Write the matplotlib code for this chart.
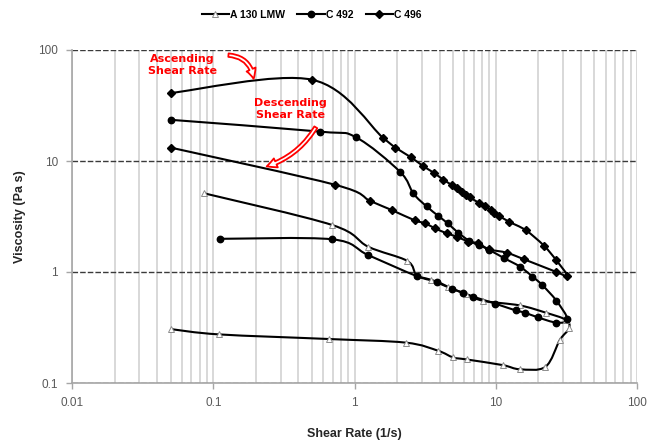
import numpy as np
import matplotlib
matplotlib.use("Agg")
import matplotlib.pyplot as plt
from matplotlib.path import Path
from matplotlib.patches import PathPatch, FancyArrowPatch
from matplotlib.lines import Line2D
from matplotlib.ticker import LogLocator, FixedLocator, NullFormatter

# each series: ascending shear rate sweep, then descending sweep
a130_rate = [0.05, 0.11, 0.66, 2.31, 3.91, 4.99, 6.21, 11.2, 14.8, 22.5, 28.4, 33.0,
             31.5, 22.6, 14.8, 8.15, 6.2, 4.6, 3.46, 2.75, 2.36, 1.25, 0.695, 0.086]
a130_visc = [0.306, 0.274, 0.249, 0.231, 0.195, 0.170, 0.163, 0.145, 0.133, 0.140, 0.244, 0.310,
             0.37, 0.43, 0.50, 0.55, 0.63, 0.73, 0.85, 0.94, 1.26, 1.69, 2.65, 5.12]

c492_rate = [0.05, 0.57, 1.02, 2.1, 2.61, 3.24, 3.92, 4.56, 5.42, 6.45, 7.6, 9.0, 11.5, 14.8,
             18.2, 21.4, 26.9, 32.2, 26.9, 19.9, 16.1, 13.9, 9.86, 6.92, 5.88, 4.87, 3.81,
             2.75, 1.25, 0.695, 0.111]
c492_visc = [23.5, 18.4, 16.4, 8.0, 5.1, 3.9, 3.2, 2.75, 2.26, 1.92, 1.75, 1.58, 1.33, 1.12,
             0.91, 0.76, 0.55, 0.374, 0.35, 0.39, 0.43, 0.45, 0.52, 0.60, 0.65, 0.71, 0.82,
             0.92, 1.42, 1.97, 1.99]

c496_rate = [0.05, 0.5, 1.6, 1.95, 2.51, 3.06, 3.66, 4.24, 4.87, 5.28, 5.73, 6.14, 6.56,
             7.59, 8.37, 9.19, 9.75, 10.6, 12.4, 16.3, 21.9, 26.9, 32.2, 26.9, 15.9, 12.0,
             9.0, 7.5, 6.4, 5.3, 4.5, 3.7, 3.15, 2.67, 1.83, 1.29, 0.73, 0.05]
c496_visc = [41, 54, 16.1, 13.2, 10.8, 9.0, 7.8, 6.8, 6.1, 5.7, 5.3, 4.95, 4.7,
             4.2, 3.94, 3.62, 3.43, 3.2, 2.84, 2.38, 1.73, 1.27, 0.92, 1.0, 1.30, 1.49,
             1.60, 1.81, 1.88, 2.08, 2.23, 2.48, 2.75, 2.92, 3.62, 4.37, 6.1, 13.2]

x_ticks = [0.01, 0.1, 1, 10, 100]
y_ticks = [0.1, 1, 10, 100]


def smooth_path(xs, ys):
    # Excel-like smoothed line: Catmull-Rom beziers in log space
    p = np.column_stack([np.log10(xs), np.log10(ys)])
    n = len(p)
    verts = [p[0]]
    codes = [Path.MOVETO]
    for i in range(n - 1):
        p0 = p[i - 1] if i > 0 else p[i]
        p3 = p[i + 2] if i + 2 < n else p[i + 1]
        verts += [p[i] + (p[i + 1] - p0) / 6, p[i + 1] - (p3 - p[i]) / 6, p[i + 1]]
        codes += [Path.CURVE4] * 3
    return Path(10 ** np.array(verts), codes)


fig = plt.figure(figsize=(6.49, 4.42), dpi=100)
ax = fig.add_axes([72 / 649, 59 / 442, 565 / 649, 333 / 442])
ax.set_xscale("log")
ax.set_yscale("log")
ax.set_xlim(0.01, 100)
ax.set_ylim(0.1, 100)

series = [
    ("A 130 LMW", a130_rate, a130_visc, dict(marker="^", ms=4, mfc="white", mec="#8c8c8c", mew=0.7)),
    ("C 492", c492_rate, c492_visc, dict(marker="o", ms=4.6, mfc="black", mec="black")),
    ("C 496", c496_rate, c496_visc, dict(marker="D", ms=4.3, mfc="black", mec="black")),
]
handles = []
for name, xs, ys, mk in series:
    ax.add_patch(PathPatch(smooth_path(xs, ys), fill=False, lw=1.5, ec="black", zorder=3))
    ax.plot(xs, ys, ls="none", zorder=4, **mk)
    handles.append(Line2D([], [], color="black", lw=1.5, label=name, **mk))

# grid
ax.xaxis.set_major_locator(FixedLocator(x_ticks))
ax.xaxis.set_minor_locator(LogLocator(base=10, subs=np.arange(2, 10)))
ax.xaxis.set_minor_formatter(NullFormatter())
ax.yaxis.set_major_locator(FixedLocator(y_ticks))
ax.yaxis.set_minor_locator(LogLocator(base=10, subs=[]))
ax.set_xticklabels(["0.01", "0.1", "1", "10", "100"])
ax.set_yticklabels(["0.1", "1", "10", "100"])
ax.grid(True, axis="x", which="both", color="#d2d2d2", lw=1.2, zorder=0)
ax.grid(True, axis="y", which="major", color="#3a3a3a", lw=1.0, ls=(0, (4, 1.5)), zorder=1)
ax.set_axisbelow(True)

for s in ["top", "right"]:
    ax.spines[s].set_visible(False)
for s in ["left", "bottom"]:
    ax.spines[s].set_color("#a6a6a6")
    ax.spines[s].set_linewidth(1.2)
ax.tick_params(axis="both", which="major", length=4, color="#a6a6a6", width=1,
               labelsize=8.5, labelcolor="#595959", pad=6)
ax.tick_params(axis="both", which="minor", length=0)
for lab in ax.get_xticklabels() + ax.get_yticklabels():
    lab.set_family("Liberation Sans")

ax.set_xlabel("Shear Rate (1/s)", fontsize=9, fontweight="bold", color="#262626",
              family="Liberation Sans", labelpad=14)
ax.set_ylabel("Viscosity (Pa s)", fontsize=9, fontweight="bold", color="#262626",
              family="Liberation Sans", labelpad=9)

fig.legend(handles=handles, loc="center", bbox_to_anchor=(0.48, 0.966), ncol=3,
           frameon=False, handlelength=2.6, columnspacing=1.2, handletextpad=0.1,
           prop=dict(family="Liberation Sans", weight="bold", size=7.5))

# annotations
ax.text(0.196, 0.955, "Ascending\nShear Rate", transform=ax.transAxes, ha="center", va="center",
        color="red", fontsize=8, fontweight="bold", linespacing=1.25)
ax.text(0.386, 0.823, "Descending\nShear Rate", transform=ax.transAxes, ha="center", va="center",
        color="red", fontsize=8, fontweight="bold", linespacing=1.25)
ax.add_patch(FancyArrowPatch((0.272, 0.985), (0.322, 0.905), transform=ax.transAxes,
                             arrowstyle="simple,head_length=7,head_width=7,tail_width=2.5",
                             connectionstyle="arc3,rad=-0.45", fc="white", ec="red", lw=1.3,
                             zorder=6, clip_on=False))
ax.add_patch(FancyArrowPatch((0.434, 0.775), (0.340, 0.648), transform=ax.transAxes,
                             arrowstyle="simple,head_length=7,head_width=7,tail_width=2.5",
                             connectionstyle="arc3,rad=-0.2", fc="white", ec="red", lw=1.3,
                             zorder=6))

fig.savefig("out.png", dpi=100)
